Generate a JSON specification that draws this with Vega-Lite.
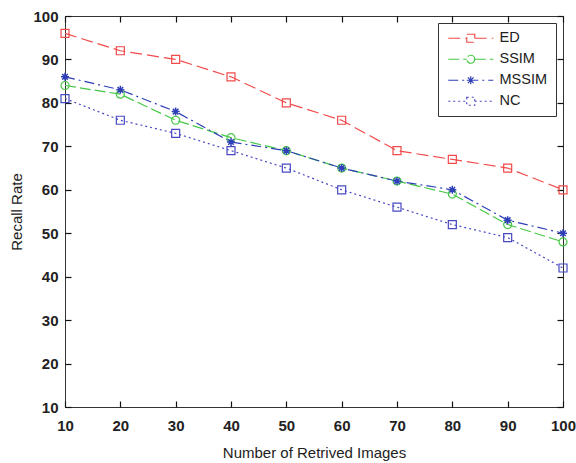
{
  "$schema": "https://vega.github.io/schema/vega-lite/v6.json",
  "width": 498,
  "height": 391,
  "autosize": {"type": "none"},
  "padding": {"left": 65, "top": 16, "right": 13, "bottom": 56},
  "background": "white",
  "config": {
    "view": {"stroke": "#333", "strokeWidth": 1},
    "font": "Liberation Sans",
    "axis": {
      "domain": false,
      "grid": false,
      "ticks": true,
      "tickColor": "#111",
      "tickWidth": 1.2,
      "tickSize": 6,
      "offset": -6,
      "labelFlush": false,
      "labelFont": "Liberation Sans",
      "labelFontSize": 15,
      "labelFontWeight": "bold",
      "labelColor": "#222",
      "titleFont": "Liberation Sans",
      "titleFontSize": 15,
      "titleFontWeight": "normal",
      "titleColor": "#222"
    }
  },
  "data": {
    "values": [
      {"n": 10, "method": "ED", "rate": 96},
      {"n": 20, "method": "ED", "rate": 92},
      {"n": 30, "method": "ED", "rate": 90},
      {"n": 40, "method": "ED", "rate": 86},
      {"n": 50, "method": "ED", "rate": 80},
      {"n": 60, "method": "ED", "rate": 76},
      {"n": 70, "method": "ED", "rate": 69},
      {"n": 80, "method": "ED", "rate": 67},
      {"n": 90, "method": "ED", "rate": 65},
      {"n": 100, "method": "ED", "rate": 60},
      {"n": 10, "method": "SSIM", "rate": 84},
      {"n": 20, "method": "SSIM", "rate": 82},
      {"n": 30, "method": "SSIM", "rate": 76},
      {"n": 40, "method": "SSIM", "rate": 72},
      {"n": 50, "method": "SSIM", "rate": 69},
      {"n": 60, "method": "SSIM", "rate": 65},
      {"n": 70, "method": "SSIM", "rate": 62},
      {"n": 80, "method": "SSIM", "rate": 59},
      {"n": 90, "method": "SSIM", "rate": 52},
      {"n": 100, "method": "SSIM", "rate": 48},
      {"n": 10, "method": "MSSIM", "rate": 86},
      {"n": 20, "method": "MSSIM", "rate": 83},
      {"n": 30, "method": "MSSIM", "rate": 78},
      {"n": 40, "method": "MSSIM", "rate": 71},
      {"n": 50, "method": "MSSIM", "rate": 69},
      {"n": 60, "method": "MSSIM", "rate": 65},
      {"n": 70, "method": "MSSIM", "rate": 62},
      {"n": 80, "method": "MSSIM", "rate": 60},
      {"n": 90, "method": "MSSIM", "rate": 53},
      {"n": 100, "method": "MSSIM", "rate": 50},
      {"n": 10, "method": "NC", "rate": 81},
      {"n": 20, "method": "NC", "rate": 76},
      {"n": 30, "method": "NC", "rate": 73},
      {"n": 40, "method": "NC", "rate": 69},
      {"n": 50, "method": "NC", "rate": 65},
      {"n": 60, "method": "NC", "rate": 60},
      {"n": 70, "method": "NC", "rate": 56},
      {"n": 80, "method": "NC", "rate": 52},
      {"n": 90, "method": "NC", "rate": 49},
      {"n": 100, "method": "NC", "rate": 42}
    ]
  },
  "layer": [
    {
      "mark": {"type": "line", "strokeWidth": 1.2},
      "encoding": {
        "x": {
          "field": "n", "type": "quantitative",
          "scale": {"domain": [10, 100], "nice": false, "zero": false},
          "axis": {"orient": "bottom", "offset": -6, "values": [10, 20, 30, 40, 50, 60, 70, 80, 90, 100], "labelPadding": 11, "title": "Number of Retrived Images", "titlePadding": 12}
        },
        "y": {
          "field": "rate", "type": "quantitative",
          "scale": {"domain": [10, 100], "nice": false, "zero": false},
          "axis": {"orient": "left", "offset": -6, "values": [10, 20, 30, 40, 50, 60, 70, 80, 90, 100], "labelPadding": 7, "title": "Recall Rate", "titlePadding": 8}
        },
        "color": {
          "field": "method", "type": "nominal",
          "scale": {"domain": ["ED", "SSIM", "MSSIM", "NC"], "range": ["#f24a4a", "#45c845", "#2f3fb8", "#4848c4"]},
          "legend": {
            "title": null,
            "orient": "top-right",
            "offset": 7,
            "padding": 8,
            "strokeColor": "#333",
            "fillColor": "white",
            "labelFont": "Liberation Sans",
            "labelFontSize": 14.5,
            "labelColor": "#222",
            "labelOffset": 39,
            "symbolSize": 100,
            "symbolFillColor": "transparent",
            "rowPadding": 6,
            "symbolStrokeWidth": 1.2
          }
        },
        "strokeDash": {
          "field": "method", "type": "nominal", "legend": null,
          "scale": {"domain": ["ED", "SSIM", "MSSIM", "NC"], "range": [[12, 5], [11, 4], [10, 4, 2, 4], [2, 3]]}
        }
      }
    },
    {
      "transform": [{"filter": "datum.method === 'ED' || datum.method === 'NC'"}],
      "mark": {"type": "point", "shape": "square", "filled": false, "size": 64, "strokeWidth": 1.2, "opacity": 1},
      "encoding": {
        "x": {"field": "n", "type": "quantitative", "axis": null},
        "y": {"field": "rate", "type": "quantitative", "axis": null},
        "color": {"field": "method", "type": "nominal"}
      }
    },
    {
      "transform": [{"filter": "datum.method === 'SSIM'"}],
      "mark": {"type": "point", "shape": "circle", "filled": false, "size": 64, "strokeWidth": 1.2, "opacity": 1},
      "encoding": {
        "x": {"field": "n", "type": "quantitative", "axis": null},
        "y": {"field": "rate", "type": "quantitative", "axis": null},
        "color": {"field": "method", "type": "nominal"}
      }
    },
    {
      "transform": [{"filter": "datum.method === 'MSSIM'"}],
      "mark": {"type": "point", "shape": "M-1,0H1M0,-1V1M-0.7,-0.7L0.7,0.7M-0.7,0.7L0.7,-0.7", "filled": false, "size": 64, "strokeWidth": 1.5, "opacity": 1},
      "encoding": {
        "x": {"field": "n", "type": "quantitative", "axis": null},
        "y": {"field": "rate", "type": "quantitative", "axis": null},
        "color": {"field": "method", "type": "nominal"}
      }
    },
    {
      "transform": [{"filter": "false"}],
      "mark": {"type": "point", "filled": false, "strokeWidth": 1.2},
      "encoding": {
        "x": {
          "field": "n", "type": "quantitative",
          "axis": {"orient": "top", "offset": -6, "values": [10, 20, 30, 40, 50, 60, 70, 80, 90, 100], "labels": false, "title": null}
        },
        "y": {
          "field": "rate", "type": "quantitative",
          "axis": {"orient": "right", "offset": -6, "values": [10, 20, 30, 40, 50, 60, 70, 80, 90, 100], "labels": false, "title": null}
        },
        "color": {"field": "method", "type": "nominal"},
        "shape": {
          "field": "method", "type": "nominal",
          "scale": {"domain": ["ED", "SSIM", "MSSIM", "NC"], "range": [
            "M-1,0H2.7M4.3,0H8M2.7,-0.8H4.3V0.8H2.7Z",
            "M-1,0H2.7M4.3,0H8M4.3,0A0.8,0.8 0 1,1 2.7,0A0.8,0.8 0 1,1 4.3,0Z",
            "M-1,0H8M2.7,0H4.3M3.5,-0.8V0.8M2.93,-0.57L4.07,0.57M2.93,0.57L4.07,-0.57",
            "M-1,0H2.7M4.3,0H8M2.7,-0.8H4.3V0.8H2.7Z"
          ]}
        }
      }
    }
  ]
}
